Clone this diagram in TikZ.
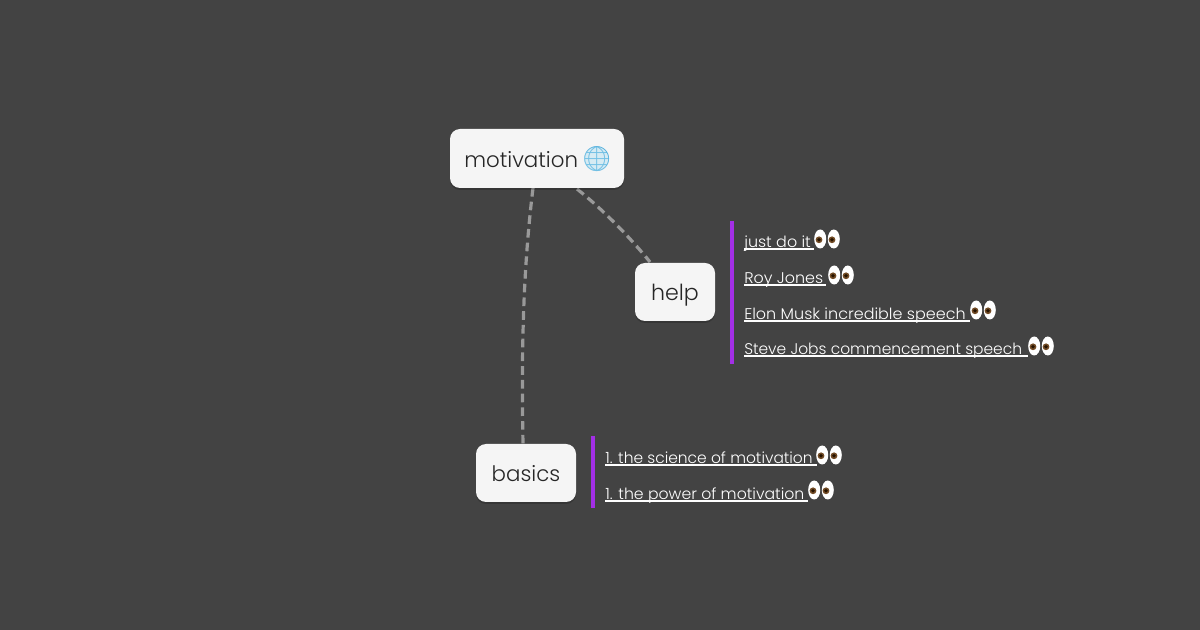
\documentclass[tikz,border=0pt]{standalone}
\usepackage{fontspec}
\usepackage{graphicx}
\setmainfont[UprightFont=* Light]{Poppins}
\newfontfamily\emo{Noto Emoji}
\definecolor{bgc}{HTML}{434343}
\definecolor{boxc}{HTML}{F5F5F5}
\definecolor{inkc}{HTML}{262626}
\definecolor{linkc}{HTML}{FFFFFF}
\definecolor{barc}{HTML}{A32FE6}
\definecolor{edgec}{HTML}{999999}
\definecolor{globec}{HTML}{4FAEDC}
\definecolor{globefill}{HTML}{A8DCF2}
\newcommand{\lnk}[3]{\rlap{\rule[-1.6pt]{#2pt}{1pt}}\scalebox{#3}[1]{#1}}
\tikzset{
  topic/.style={fill=boxc,rounded corners=7.5pt,inner sep=0pt,text=inkc,text height=13.5pt,text depth=0pt,font=\fontsize{16pt}{20pt}\selectfont,anchor=center},
  softshade/.style={fill=black,opacity=.18,rounded corners=7.5pt},
  linknode/.style={anchor=base west,inner sep=0pt,text=linkc,font=\fontsize{11.6pt}{14pt}\selectfont},
  conn/.style={draw=edgec,line width=2.4pt,dash pattern=on 6.5pt off 3.8pt},
  barline/.style={draw=barc,line width=2.4pt},
  eyewhite/.style={fill=white,draw=none},
  pupil/.style={fill=black!85!orange,draw=none},
}
\newcommand{\eyes}[3]{%
  \coordinate (#3) at (#1,#2);
  \fill[eyewhite] (#1-6.8,#2) ellipse (6 and 9.5);
  \fill[eyewhite] (#1+6.8,#2) ellipse (6 and 9.5);
  \fill[fill=brown!60!black] (#1-8,#2+.8) circle (3.4);
  \fill[fill=brown!60!black] (#1+5,#2+.8) circle (3.4);
  \fill[pupil] (#1-8,#2+.8) circle (1.9);
  \fill[pupil] (#1+5,#2+.8) circle (1.9);
}
\begin{document}
\begin{tikzpicture}[x=0.75pt,y=-0.75pt]
\useasboundingbox (0,0) rectangle (1200,630);
\fill[bgc] (0,0) rectangle (1200,630);
\coordinate (c1) at (533,188);
\coordinate (c2) at (577,189);
\coordinate (h1) at (650,262);
\coordinate (b1) at (523,444);
\draw[conn] (c1) .. controls (524,262) and (521,340) .. (b1);
\draw[conn] (c2) .. controls (601,208) and (628,235) .. (h1);
\fill[softshade] (450,131) rectangle (624,190);
\fill[softshade] (635,265) rectangle (715,323);
\fill[softshade] (476,446) rectangle (576,504);
\node[topic,minimum width=130.5pt,minimum height=44.25pt] (mot) at (537,158.5) {\hspace{2pt}motivation\hspace{2.25pt}{\emo\fontsize{18.5pt}{20pt}\selectfont\textcolor{globec}{🌐}}};
\node[topic,font=\fontsize{16.6pt}{20pt}\selectfont,minimum width=60pt,minimum height=43.5pt] (help) at (675,292) {help};
\node[topic,minimum width=75pt,minimum height=43.5pt] (basics) at (526,473) {basics};
\fill[globefill,opacity=.4] (596.3,159) circle (12.2);
\coordinate (b1t) at (732,221); \coordinate (b1b) at (732,364);
\coordinate (b2t) at (593,436); \coordinate (b2b) at (593,508);
\draw[barline] (b1t) -- (b1b);
\draw[barline] (b2t) -- (b2b);
\node[linknode] (l1) at (744,247.5) {\lnk{just do it}{52}{1.03}};
\node[linknode] (l2) at (744,283.5) {\lnk{Roy Jones}{61.5}{1.03}};
\node[linknode] (l3) at (744,319.5) {\lnk{Elon Musk incredible speech}{169}{1.033}};
\node[linknode] (l4) at (744,354.5) {\lnk{Steve Jobs commencement speech}{212.5}{1.0}};
\node[linknode] (l5) at (605,463.5) {\lnk{1. the science of motivation}{158.5}{1.0}};
\node[linknode] (l6) at (605,499.5) {\lnk{1. the power of motivation}{152}{1.015}};
\eyes{827}{239}{e1}
\eyes{841}{275}{e2}
\eyes{983}{310}{e3}
\eyes{1041}{346}{e4}
\eyes{829}{455}{e5}
\eyes{821}{490}{e6}
\end{tikzpicture}
\end{document}
